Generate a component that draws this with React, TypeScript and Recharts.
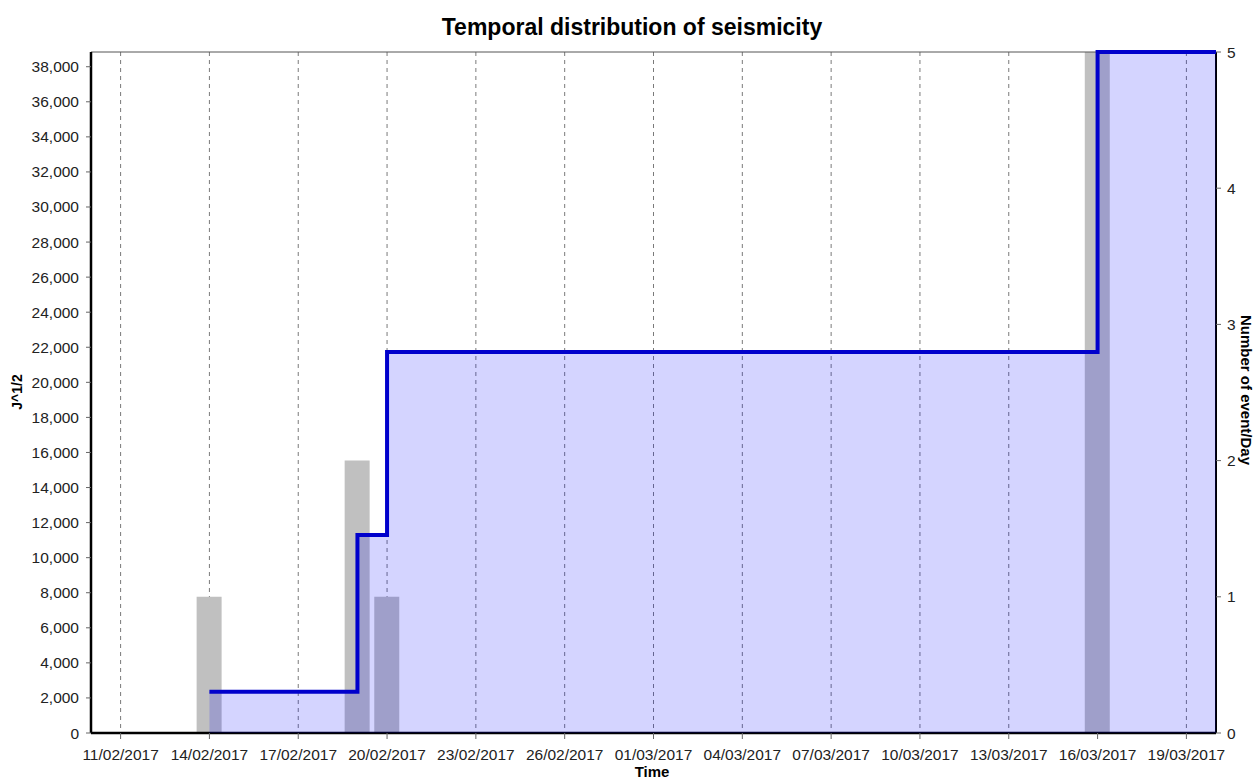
import React from "react";
import {
  ComposedChart,
  Bar,
  Area,
  XAxis,
  YAxis,
  CartesianGrid,
  ReferenceLine,
} from "recharts";

// days with recorded events
const eventDays = ["14/02/2017", "19/02/2017", "20/02/2017", "16/03/2017"];
const eventsPerDay = [1, 2, 1, 5];
const cumulativeStrain = [2355, 11290, 21730, 38840];

const startDay = "10/02/2017";
const endDay = "20/03/2017";

const dateTicks = [
  "11/02/2017",
  "14/02/2017",
  "17/02/2017",
  "20/02/2017",
  "23/02/2017",
  "26/02/2017",
  "01/03/2017",
  "04/03/2017",
  "07/03/2017",
  "10/03/2017",
  "13/03/2017",
  "16/03/2017",
  "19/03/2017",
];
const strainTicks = [
  0, 2000, 4000, 6000, 8000, 10000, 12000, 14000, 16000, 18000, 20000, 22000,
  24000, 26000, 28000, 30000, 32000, 34000, 36000, 38000,
];
const countTicks = [0, 1, 2, 3, 4, 5];

const toTime = (s: string) => {
  const [d, m, y] = s.split("/").map(Number);
  return Date.UTC(y, m - 1, d);
};

const fmtDate = (t: number) => {
  const d = new Date(t);
  const dd = String(d.getUTCDate()).padStart(2, "0");
  const mm = String(d.getUTCMonth() + 1).padStart(2, "0");
  return `${dd}/${mm}/${d.getUTCFullYear()}`;
};

const rows = [
  ...eventDays.map((day, i) => ({
    t: toTime(day),
    events: eventsPerDay[i],
    strain: cumulativeStrain[i],
  })),
  { t: toTime(endDay), strain: cumulativeStrain[cumulativeStrain.length - 1] },
];

const FONT = "'Liberation Sans', Arial, sans-serif";
const tickStyle = { fontSize: 15.5, fill: "#222", fontFamily: FONT };

export default function App() {
  return (
    <div
      style={{
        position: "absolute",
        left: 0,
        top: 0,
        width: 1255,
        height: 781,
        overflow: "hidden",
        background: "#fff",
      }}
    >
      <ComposedChart
        width={1255}
        height={781}
        data={rows}
        margin={{ top: 52, right: 9, bottom: 18, left: 21 }}
      >
        <CartesianGrid
          yAxisId="left"
          horizontal={false}
          stroke="#7a7a7a"
          strokeDasharray="4 4"
        />
        <XAxis
          dataKey="t"
          type="number"
          scale="time"
          domain={[toTime(startDay), toTime(endDay)]}
          ticks={dateTicks.map(toTime)}
          tickFormatter={fmtDate}
          tick={tickStyle}
          height={30}
          tickSize={6}
          tickMargin={10}
          axisLine={{ stroke: "#000", strokeWidth: 2.5 }}
          tickLine={{ stroke: "#666" }}
          allowDataOverflow
        />
        <YAxis
          yAxisId="left"
          orientation="left"
          domain={[0, 38840]}
          ticks={strainTicks}
          tickFormatter={(v: number) => v.toLocaleString("en-US")}
          tick={tickStyle}
          width={70}
          tickSize={5}
          tickMargin={7}
          axisLine={{ stroke: "#000", strokeWidth: 2.5 }}
          tickLine={{ stroke: "#666" }}
        />
        <YAxis
          yAxisId="right"
          orientation="right"
          domain={[0, 5]}
          ticks={countTicks}
          tick={tickStyle}
          width={30}
          tickSize={5}
          tickMargin={6}
          axisLine={{ stroke: "#000", strokeWidth: 2 }}
          tickLine={{ stroke: "#666" }}
        />
        <ReferenceLine yAxisId="left" y={38840} stroke="#555" strokeWidth={1} />
        <Bar
          yAxisId="right"
          dataKey="events"
          fill="#c0c0c0"
          barSize={25}
          zIndex={100}
          isAnimationActive={false}
        />
        <Area
          yAxisId="left"
          type="stepAfter"
          dataKey="strain"
          stroke="#0000cc"
          strokeWidth={4}
          fill="#0000ff"
          fillOpacity={0.17}
          zIndex={500}
          isAnimationActive={false}
        />
      </ComposedChart>
      <svg
        width={1255}
        height={781}
        style={{ position: "absolute", left: 0, top: 0, pointerEvents: "none" }}
        fontFamily={FONT}
        fontWeight="bold"
        fill="#000"
      >
        <text x={632} y={35} fontSize={23} textAnchor="middle">
          Temporal distribution of seismicity
        </text>
        <text x={652} y={777} fontSize={15} textAnchor="middle">
          Time
        </text>
        <text
          x={22}
          y={392}
          fontSize={14}
          textAnchor="middle"
          transform="rotate(-90, 22, 392)"
        >
          J^1/2
        </text>
        <text
          x={1241}
          y={390}
          fontSize={15}
          textAnchor="middle"
          transform="rotate(90, 1241, 390)"
        >
          Number of event/Day
        </text>
      </svg>
    </div>
  );
}
